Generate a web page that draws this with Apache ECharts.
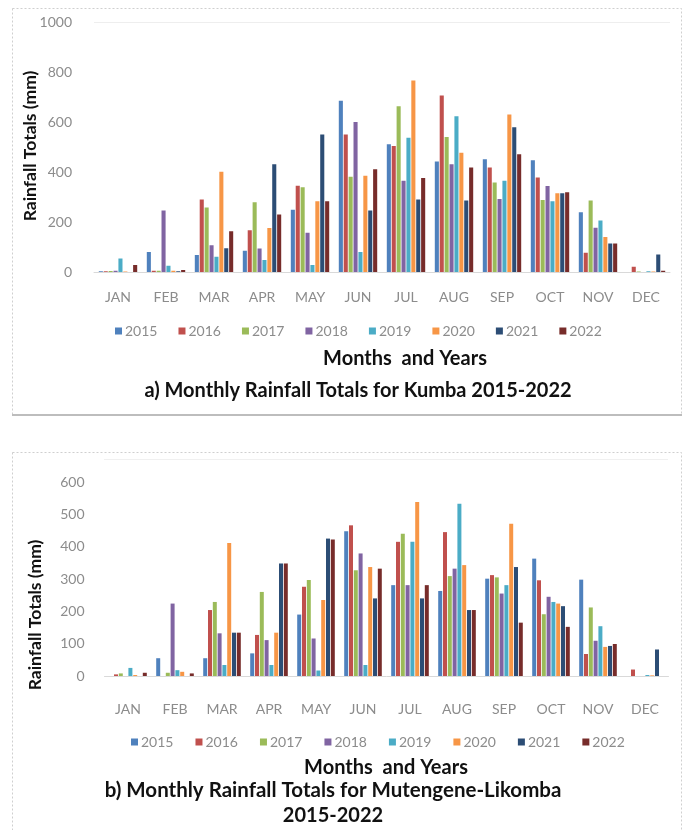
<!DOCTYPE html>
<html><head><meta charset="utf-8">
<script src="https://cdn.jsdelivr.net/npm/echarts@6/dist/echarts.min.js"></script>
<style>html,body{margin:0;padding:0;background:#fff}#c{width:688px;height:830px}</style>
</head><body><div id="c"></div>
<script>
const months = ['JAN','FEB','MAR','APR','MAY','JUN','JUL','AUG','SEP','OCT','NOV','DEC'];
const years = ['2015','2016','2017','2018','2019','2020','2021','2022'];
const colors = ['#4F81BD','#C0504D','#9BBB59','#8064A2','#4BACC6','#F79646','#2C4D75','#772C2A'];

// a) Kumba
const kumba2015 = [3, 80, 68, 85, 249, 685, 511, 442, 451, 447, 239, 0];
const kumba2016 = [3, 5, 290, 167, 345, 550, 504, 706, 418, 378, 77, 21];
const kumba2017 = [4, 5, 258, 279, 339, 381, 663, 540, 358, 288, 286, 2];
const kumba2018 = [5, 246, 107, 94, 157, 600, 365, 431, 292, 344, 177, 0];
const kumba2019 = [54, 25, 61, 48, 28, 80, 537, 623, 365, 283, 206, 3];
const kumba2020 = [2, 5, 401, 176, 283, 385, 766, 477, 630, 315, 140, 2];
const kumba2021 = [0, 3, 95, 431, 550, 246, 290, 286, 579, 315, 114, 70];
const kumba2022 = [28, 8, 163, 230, 283, 411, 376, 418, 471, 319, 114, 5];

// b) Mutengene-Likomba
const mut2015 = [0, 55, 55, 70, 190, 448, 281, 263, 301, 363, 298, 0];
const mut2016 = [5, 0, 204, 127, 276, 466, 415, 445, 312, 296, 68, 20];
const mut2017 = [8, 10, 229, 260, 297, 327, 440, 309, 305, 191, 212, 0];
const mut2018 = [0, 224, 132, 111, 116, 379, 281, 332, 255, 245, 109, 0];
const mut2019 = [25, 18, 34, 34, 17, 34, 415, 533, 281, 229, 154, 3];
const mut2020 = [3, 13, 411, 134, 235, 337, 538, 343, 471, 224, 90, 2];
const mut2021 = [0, 0, 134, 348, 425, 240, 240, 204, 337, 216, 93, 82];
const mut2022 = [10, 8, 134, 348, 422, 332, 281, 204, 165, 152, 99, 0];

const kumba = [kumba2015,kumba2016,kumba2017,kumba2018,kumba2019,kumba2020,kumba2021,kumba2022];
const mut = [mut2015,mut2016,mut2017,mut2018,mut2019,mut2020,mut2021,mut2022];

const FONT = 'Lato';
const GRAY = '#8c8c8c';

function xAx(gi, margin){
  return {type:'category', gridIndex:gi, data:months,
    axisLine:{show:true, lineStyle:{color:'#d9d9d9'}}, axisTick:{show:false},
    axisLabel:{color:GRAY, fontFamily:FONT, fontSize:14, margin:margin, interval:0}};
}
function yAx(gi, max, interval, margin){
  return {type:'value', gridIndex:gi, min:0, max:max, interval:interval,
    axisLine:{show:false}, axisTick:{show:false}, splitLine:{show:false},
    axisLabel:{color:GRAY, fontFamily:FONT, fontSize:14, margin:margin, formatter:v=>String(v)}};
}

const series = [];
years.forEach((y,i)=>{
  series.push({name:y, type:'bar', xAxisIndex:0, yAxisIndex:0, data:kumba[i],
    itemStyle:{color:colors[i]}, barGap:'20%', barCategoryGap:'20%'});
});
years.forEach((y,i)=>{
  series.push({name:y, type:'bar', xAxisIndex:1, yAxisIndex:1, data:mut[i],
    itemStyle:{color:colors[i]}, barGap:'20%', barCategoryGap:'20%'});
});

function legend(left, top, gap){
  return {data:years, left:left, top:top, icon:'rect', itemWidth:7, itemHeight:7, itemGap:gap,
    textStyle:{color:GRAY, fontFamily:FONT, fontSize:14, padding:[0,0,0,-2]}, selectedMode:false};
}

function txt(x,y,s,size,rot){
  return {type:'text', x:x, y:y, rotation:rot||0,
    style:{text:s, font:'bold '+size+'px '+FONT, fill:'#111', textAlign:'center', textVerticalAlign:'middle'}};
}

const chart = echarts.init(document.getElementById('c'), null, {renderer:'canvas'});
chart.setOption({
  animation:false,
  backgroundColor:'#fff',
  grid:[
    {left:94, right:18, top:22, height:250},
    {left:104.5, right:19.5, top:482, height:194}
  ],
  xAxis:[xAx(0,18), xAx(1,26)],
  yAxis:[yAx(0,1000,200,22), yAx(1,600,100,20)],
  legend:[legend(110, 319, 21), legend(126, 730, 22)],
  series:series,
  graphic:[
    {type:'rect', shape:{x:12.5, y:8.5, width:669, height:406}, style:{fill:null, stroke:'#cfcfcf', lineWidth:1, lineDash:[2,2]}},
    {type:'line', shape:{x1:12, y1:415, x2:682, y2:415}, style:{stroke:'#bdbdbd', lineWidth:2}},
    {type:'line', shape:{x1:94, y1:22.5, x2:670, y2:22.5}, style:{stroke:'#eeeeee', lineWidth:1}},
    {type:'rect', shape:{x:12.5, y:452.5, width:669, height:400}, style:{fill:null, stroke:'#cfcfcf', lineWidth:1, lineDash:[2,2]}},
    {type:'line', shape:{x1:104, y1:459.5, x2:668, y2:459.5}, style:{stroke:'#f0f0f0', lineWidth:1}},
    txt(30,146,'Rainfall Totals (mm)',17.5,Math.PI/2),
    txt(405,359,'Months  and Years',20),
    txt(358,391,'a) Monthly Rainfall Totals for Kumba 2015-2022',20),
    txt(35,615,'Rainfall Totals (mm)',17.5,Math.PI/2),
    txt(386,768,'Months  and Years',20),
    txt(333,790,'b) Monthly Rainfall Totals for Mutengene-Likomba',20.5),
    txt(333,816,'2015-2022',20)
  ]
});
</script>
</body></html>
